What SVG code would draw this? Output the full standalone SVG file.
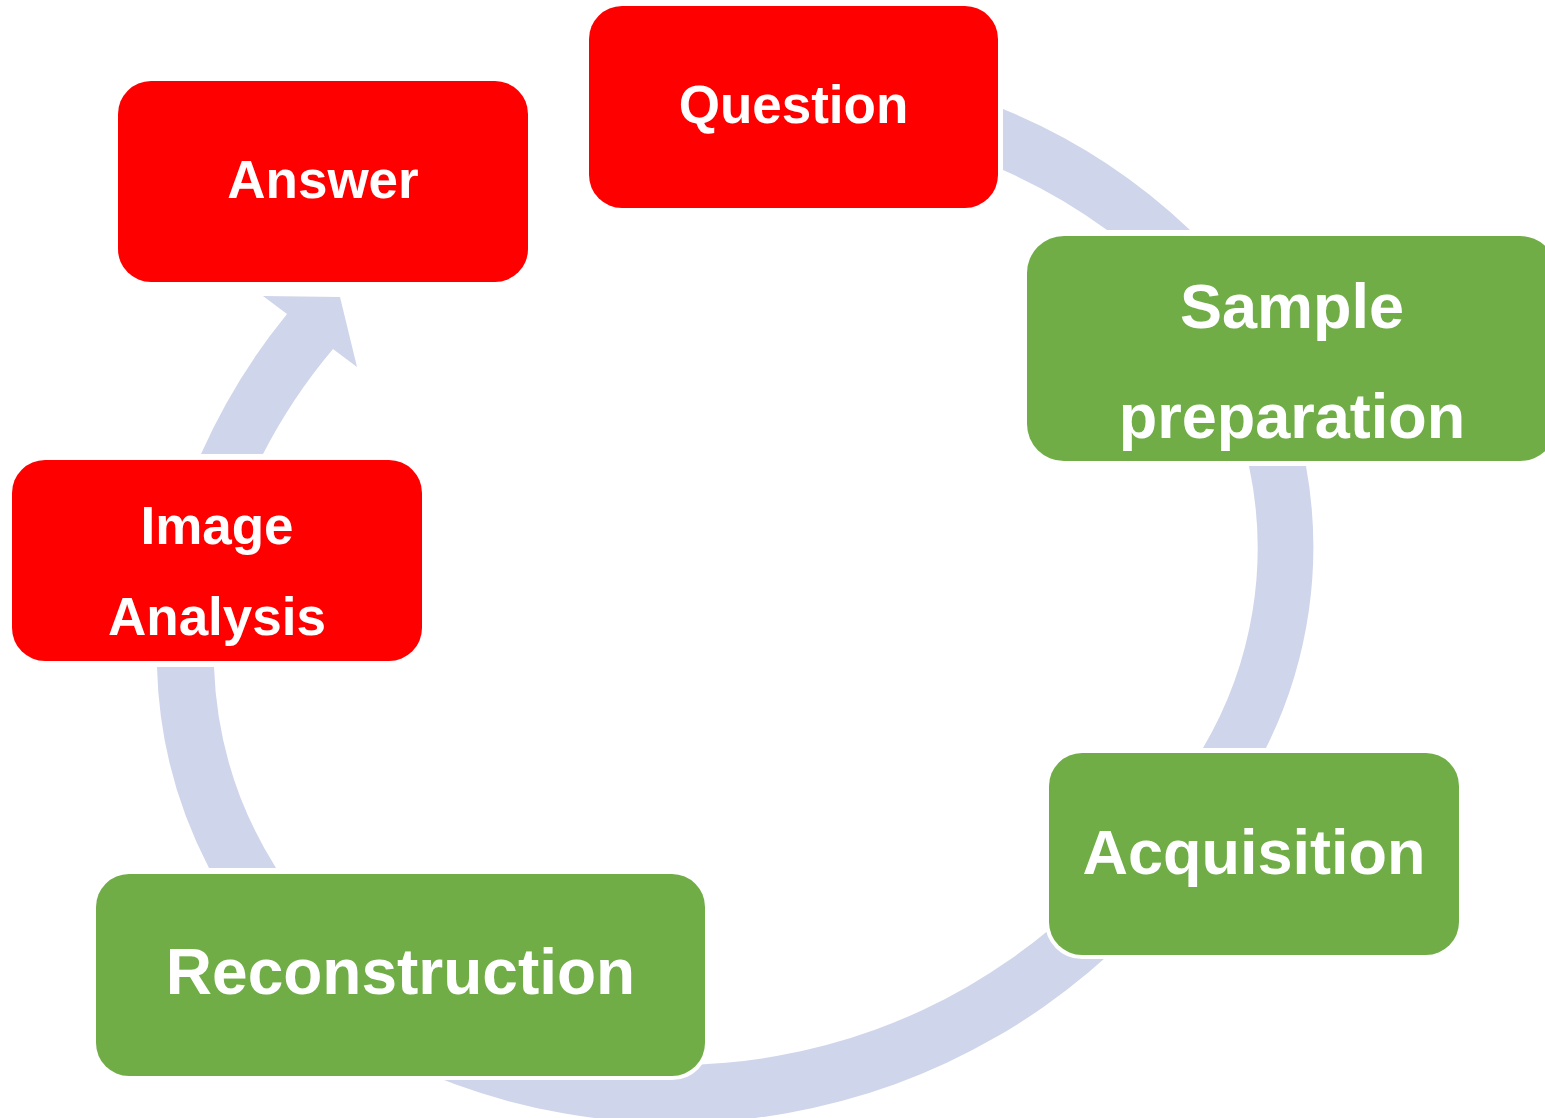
<svg xmlns="http://www.w3.org/2000/svg" width="1545" height="1118" viewBox="0 0 1545 1118">
  <style>
    .band { fill: #CFD5EA; stroke: none; }
    .box { stroke: #FFFFFF; stroke-width: 8; paint-order: stroke; }
    .red { fill: #FF0000; }
    .green { fill: #70AD47; }
    .lbl { font-family: "Liberation Sans", Arial, sans-serif; font-weight: bold; fill: #FFFFFF; text-anchor: middle; }
  </style>
  <rect x="0" y="0" width="1545" height="1118" fill="#FFFFFF"/>
  <g id="connectors">
    <path class="band" d="M 1003 109 A 600 600 0 0 1 1190 230 L 1107 230 A 544 544 0 0 0 1003 170 Z"/>
    <path class="band" d="M 1249 466 L 1306 466 A 450 450 0 0 1 1266 748 L 1203 748 A 393 393 0 0 0 1249 466 Z"/>
    <path class="band" d="M 1167.6 893.3 A 643 643 0 0 1 353.5 1036.9 L 382.5 986.6 A 585 585 0 0 0 1123.1 856.1 Z"/>
    <path class="band" d="M 157 667 L 214 667 A 404 404 0 0 0 276 868 L 209 868 A 462 462 0 0 1 157 667 Z"/>
    <path class="band" d="M 263 296 L 340 297 L 357 367 L 333 349 A 560 560 0 0 0 263 454 L 201 454 A 617 617 0 0 1 287 314 Z"/>
  </g>
  <g id="node-question">
    <rect class="box red" x="589" y="6" width="409" height="202" rx="33" ry="33"/>
    <text class="lbl" x="793.5" y="123" font-size="53">Question</text>
  </g>
  <g id="node-sample">
    <rect class="box green" x="1027" y="236" width="530" height="225" rx="37" ry="37"/>
    <text class="lbl" x="1292" y="328" font-size="63">Sample</text>
    <text class="lbl" x="1292" y="438" font-size="63">preparation</text>
  </g>
  <g id="node-acquisition">
    <rect class="box green" x="1049" y="753" width="410" height="202" rx="33" ry="33"/>
    <text class="lbl" x="1254" y="874" font-size="63">Acquisition</text>
  </g>
  <g id="node-reconstruction">
    <rect class="box green" x="96" y="874" width="609" height="202" rx="33" ry="33"/>
    <text class="lbl" x="400.5" y="994" font-size="64">Reconstruction</text>
  </g>
  <g id="node-image-analysis">
    <rect class="box red" x="12" y="460" width="410" height="201" rx="33" ry="33"/>
    <text class="lbl" x="217" y="544" font-size="53">Image</text>
    <text class="lbl" x="217" y="635" font-size="53">Analysis</text>
  </g>
  <g id="node-answer">
    <rect class="box red" x="118" y="81" width="410" height="201" rx="33" ry="33"/>
    <text class="lbl" x="323" y="198" font-size="53">Answer</text>
  </g>
</svg>
